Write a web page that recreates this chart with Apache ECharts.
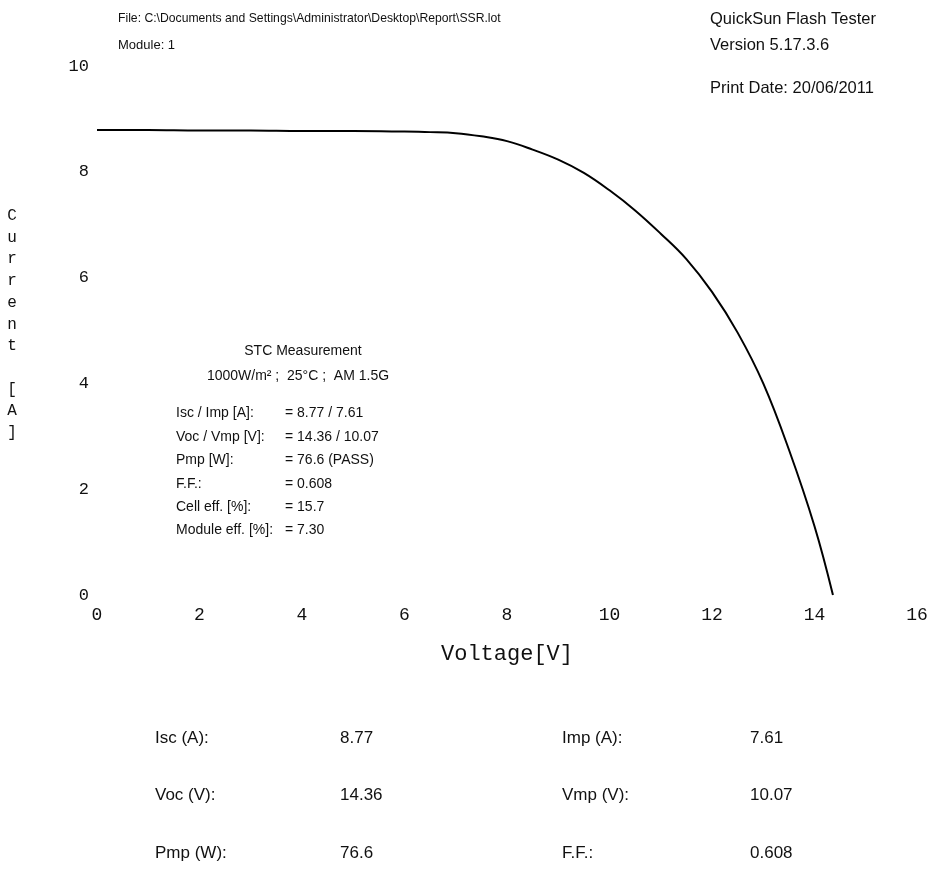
<!DOCTYPE html>
<html>
<head>
<meta charset="utf-8">
<script src="https://cdn.jsdelivr.net/npm/echarts@6/dist/echarts.min.js"></script>
<style>html,body{margin:0;padding:0;background:#fff}#c{width:933px;height:874px}</style>
</head>
<body>
<div id="c"></div>
<script>
// I-V curve
const voltage = [0, 1, 2, 3, 4, 5, 6, 6.5, 7, 7.5, 8, 8.5, 9, 9.5, 10, 10.5, 11, 11.5, 12, 12.5, 13, 13.5, 14, 14.36];
const current = [8.79, 8.79, 8.78, 8.78, 8.77, 8.77, 8.76, 8.75, 8.73, 8.67, 8.58, 8.42, 8.23, 7.98, 7.65, 7.27, 6.83, 6.35, 5.73, 4.96, 4.0, 2.75, 1.3, 0];

const headerLeft = ["File: C:\\Documents and Settings\\Administrator\\Desktop\\Report\\SSR.lot", "Module: 1"];
const headerRight = ["QuickSun Flash Tester", "Version 5.17.3.6", "Print Date: 20/06/2011"];

const stcTitle = ["STC Measurement", "1000W/m² ;  25°C ;  AM 1.5G"];
const stcLabels = ["Isc / Imp [A]:", "Voc / Vmp [V]:", "Pmp [W]:", "F.F.:", "Cell eff. [%]:", "Module eff. [%]:"];
const stcValues = ["= 8.77 / 7.61", "= 14.36 / 10.07", "= 76.6 (PASS)", "= 0.608", "= 15.7", "= 7.30"];

const tableLabelsL = ["Isc (A):", "Voc (V):", "Pmp (W):"];
const tableValuesL = ["8.77", "14.36", "76.6"];
const tableLabelsR = ["Imp (A):", "Vmp (V):", "F.F.:"];
const tableValuesR = ["7.61", "10.07", "0.608"];

const xTicks = [0, 2, 4, 6, 8, 10, 12, 14, 16];
const yTicks = [0, 2, 4, 6, 8, 10];

const data = voltage.map((v, i) => [v, current[i]]);
const mono = "'Liberation Mono', 'DejaVu Sans Mono', monospace";
const sans = "'Liberation Sans', Arial, sans-serif";

const graphics = [];
function txt(x, y, text, font, size, align, weight) {
  graphics.push({type: 'text', x: x, y: y, style: {text: text, fontFamily: font, fontSize: size, fill: '#111', align: align || 'left', verticalAlign: 'middle', fontWeight: weight || 'normal'}});
}
txt(118, 19, headerLeft[0], sans, 12.2);
txt(118, 45, headerLeft[1], sans, 13);
txt(710, 19, headerRight[0], sans, 16.5);
txt(710, 45, headerRight[1], sans, 16.5);
txt(710, 88, headerRight[2], sans, 16.5);

txt(303, 351, stcTitle[0], sans, 14, 'center');
txt(298, 376, stcTitle[1], sans, 14, 'center');
const stcY = [413, 437, 460, 484, 507, 530];
stcLabels.forEach((t, i) => { txt(176, stcY[i], t, sans, 14); txt(285, stcY[i], stcValues[i], sans, 14); });

const rowY = [738, 795, 853];
tableLabelsL.forEach((t, i) => {
  txt(155, rowY[i], t, sans, 17);
  txt(340, rowY[i], tableValuesL[i], sans, 17);
  txt(562, rowY[i], tableLabelsR[i], sans, 17);
  txt(750, rowY[i], tableValuesR[i], sans, 17);
});

graphics.push({type: 'text', x: 12, y: 205, style: {text: "C\nu\nr\nr\ne\nn\nt\n \n[\nA\n]", fontFamily: mono, fontSize: 16, lineHeight: 21.7, fill: '#111', align: 'center', verticalAlign: 'top'}});

const chart = echarts.init(document.getElementById('c'), null, {renderer: 'canvas'});
chart.setOption({
  backgroundColor: '#fff',
  animation: false,
  grid: {left: 97, right: 16, top: 66, bottom: 279, containLabel: false},
  xAxis: {
    type: 'value', min: xTicks[0], max: xTicks[xTicks.length - 1], interval: 2,
    name: 'Voltage[V]', nameLocation: 'middle', nameGap: 48,
    nameTextStyle: {fontFamily: mono, fontSize: 22, color: '#111'},
    axisLine: {show: false}, axisTick: {show: false}, splitLine: {show: false},
    axisLabel: {fontFamily: mono, fontSize: 18, color: '#111', margin: 11}
  },
  yAxis: {
    type: 'value', min: yTicks[0], max: yTicks[yTicks.length - 1], interval: 2,
    axisLine: {show: false}, axisTick: {show: false}, splitLine: {show: false},
    axisLabel: {fontFamily: mono, fontSize: 17, color: '#111', margin: 8}
  },
  series: [{
    type: 'line', data: data, showSymbol: false, smooth: 0.4,
    lineStyle: {color: '#000', width: 2}
  }],
  graphic: graphics
});
</script>
</body>
</html>
